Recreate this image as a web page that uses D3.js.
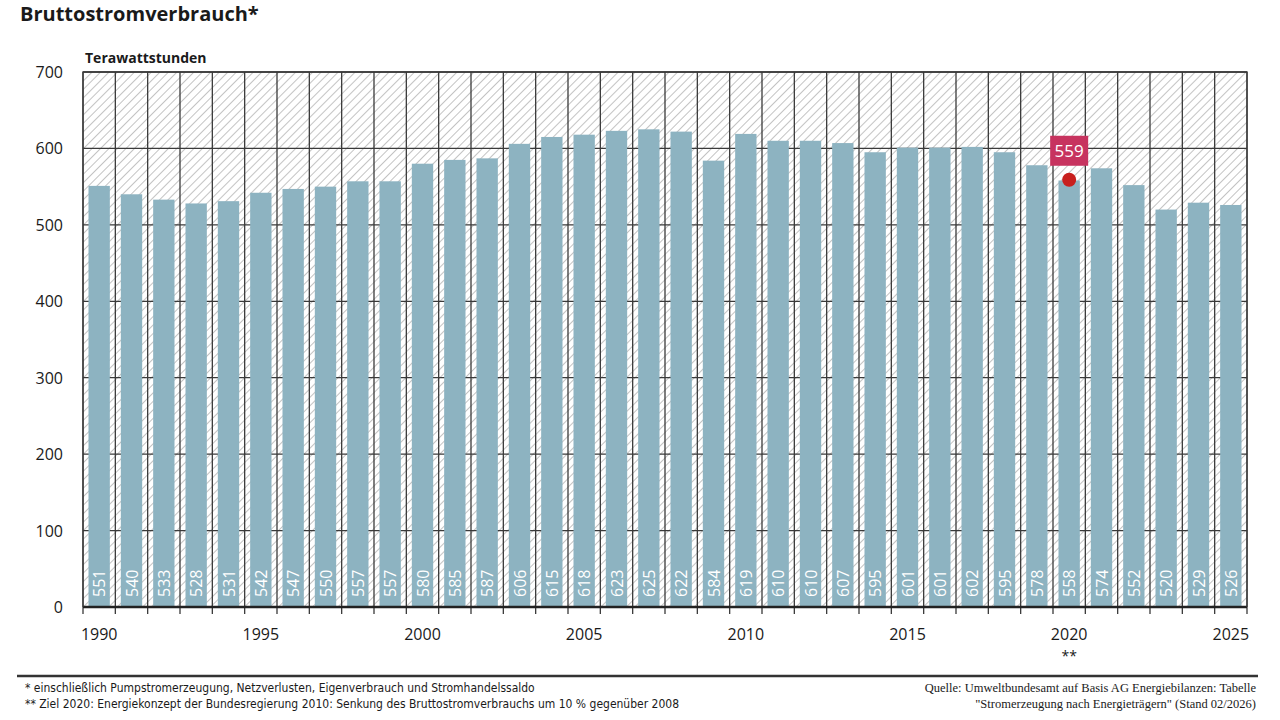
<!DOCTYPE html>
<html>
<head>
<meta charset="utf-8">
<script src="https://cdn.jsdelivr.net/npm/d3@7"></script>
<style>
	body { margin: 0; background: #fff; }
	svg { display: block; }
</style>
</head>
<body>
<script>
const years = d3.range(1990, 2026);
const values = [
	551, 540, 533, 528, 531, 542, 547, 550, 557, 557,
	580, 585, 587, 606, 615, 618, 623, 625, 622, 584,
	619, 610, 610, 607, 595, 601, 601, 602, 595, 578,
	558, 574, 552, 520, 529, 526,
];
const yTicks = [0, 100, 200, 300, 400, 500, 600, 700];
const xTickLabels = [1990, 1995, 2000, 2005, 2010, 2015, 2020, 2025];
const target = { year: 2020, value: 559 };

const colors = {
	bar: "#8db3c1",
	grid: "#3a3a3a",
	hatch: "#bdbdbd",
	text: "#1a1a1a",
	marker: "#c8201e",
	badge: "#c7335f",
};
const margin = { top: 72, left: 83, right: 33, bottom: 113 };
const width = 1280, height = 720;
const plotW = width - margin.left - margin.right;
const plotH = height - margin.top - margin.bottom;
const sans = "'Open Sans', 'Noto Sans', sans-serif";
const narrow = "'Liberation Sans Narrow', 'DejaVu Sans Condensed', sans-serif";

const svg = d3.select("body")
	.append("svg")
	.attr("width", width)
	.attr("height", height);

// hatch pattern for plot background
const pattern = svg.append("defs")
	.append("pattern")
	.attr("id", "hatch")
	.attr("patternUnits", "userSpaceOnUse")
	.attr("width", 6)
	.attr("height", 6)
	.attr("patternTransform", "rotate(45)");
pattern.append("rect").attr("width", 6).attr("height", 6).attr("fill", "#fff");
pattern.append("line")
	.attr("x1", 0).attr("y1", 0).attr("x2", 0).attr("y2", 6)
	.attr("stroke", colors.hatch)
	.attr("stroke-width", 1.8);

const x = d3.scaleBand().domain(years).range([0, plotW]).paddingInner(0.34).paddingOuter(0.17);
const step = x.step();
const y = d3.scaleLinear().domain([0, 700]).range([plotH, 0]);

const g = svg.append("g").attr("transform", `translate(${margin.left}, ${margin.top})`);

g.append("rect")
	.attr("width", plotW)
	.attr("height", plotH)
	.attr("fill", "url(#hatch)");

// horizontal grid
g.append("g")
	.selectAll("line")
	.data(yTicks.slice(1))
	.enter()
	.append("line")
	.attr("x1", 0)
	.attr("x2", plotW)
	.attr("y1", (d) => y(d))
	.attr("y2", (d) => y(d))
	.attr("stroke", colors.grid)
	.attr("stroke-width", 1.3);

// vertical grid at category boundaries
const bounds = years.map((d) => x(d) - (step - x.bandwidth()) / 2);
bounds.push(plotW);
g.append("g")
	.selectAll("line")
	.data(bounds)
	.enter()
	.append("line")
	.attr("x1", (d) => d)
	.attr("x2", (d) => d)
	.attr("y1", 0)
	.attr("y2", plotH + 7)
	.attr("stroke", colors.grid)
	.attr("stroke-width", 1.3);

// bars
g.append("g")
	.selectAll("rect")
	.data(values)
	.enter()
	.append("rect")
	.attr("x", (d, i) => x(years[i]))
	.attr("y", (d) => y(d))
	.attr("width", x.bandwidth())
	.attr("height", (d) => plotH - y(d))
	.attr("fill", colors.bar);

// value labels inside bars
g.append("g")
	.selectAll("text")
	.data(values)
	.enter()
	.append("text")
	.text((d) => d)
	.attr("transform", (d, i) => `translate(${x(years[i]) + x.bandwidth() / 2 + 6}, ${plotH - 10}) rotate(-90)`)
	.attr("fill", "#fff")
	.style("font-family", sans)
	.style("font-size", "16px");

// bottom axis line
g.append("line")
	.attr("x1", 0).attr("x2", plotW)
	.attr("y1", plotH).attr("y2", plotH)
	.attr("stroke", "#222")
	.attr("stroke-width", 2.5);

// frame top and right
g.append("path")
	.attr("d", `M0,${plotH}V0H${plotW}V${plotH}`)
	.attr("fill", "none")
	.attr("stroke", colors.grid)
	.attr("stroke-width", 1.3);

// y tick labels
g.append("g")
	.selectAll("text")
	.data(yTicks)
	.enter()
	.append("text")
	.text((d) => d)
	.attr("x", -20)
	.attr("y", (d) => y(d) + 6)
	.attr("text-anchor", "end")
	.attr("fill", colors.text)
	.style("font-family", sans)
	.style("font-size", "16px");

// x tick labels
g.append("g")
	.selectAll("text")
	.data(xTickLabels)
	.enter()
	.append("text")
	.text((d) => d)
	.attr("x", (d) => x(d) + x.bandwidth() / 2)
	.attr("y", plotH + 33)
	.attr("text-anchor", "middle")
	.attr("fill", colors.text)
	.style("font-family", sans)
	.style("font-size", "16px");

g.append("text")
	.text("**")
	.attr("x", x(target.year) + x.bandwidth() / 2)
	.attr("y", plotH + 54)
	.attr("text-anchor", "middle")
	.attr("fill", colors.text)
	.style("font-family", sans)
	.style("font-size", "14px");

// target marker
const tx = x(target.year) + x.bandwidth() / 2;
g.append("circle")
	.attr("cx", tx)
	.attr("cy", y(target.value))
	.attr("r", 7)
	.attr("fill", colors.marker);
g.append("rect")
	.attr("x", tx - 19)
	.attr("y", y(target.value) - 44)
	.attr("width", 38)
	.attr("height", 30)
	.attr("fill", colors.badge);
g.append("text")
	.text(target.value)
	.attr("x", tx)
	.attr("y", y(target.value) - 23)
	.attr("text-anchor", "middle")
	.attr("fill", "#fff")
	.style("font-family", sans)
	.style("font-size", "17px");

// titles
svg.append("text")
	.text("Bruttostromverbrauch*")
	.attr("x", 20)
	.attr("y", 21)
	.attr("fill", colors.text)
	.style("font-family", sans)
	.style("font-weight", "bold")
	.style("font-size", "20px");
svg.append("text")
	.text("Terawattstunden")
	.attr("x", 85)
	.attr("y", 63)
	.attr("fill", colors.text)
	.style("font-family", sans)
	.style("font-weight", "bold")
	.style("font-size", "14px");

// footer
svg.append("line")
	.attr("x1", 17).attr("x2", 1258)
	.attr("y1", 676).attr("y2", 676)
	.attr("stroke", "#333")
	.attr("stroke-width", 2.5);

const notes = [
	"* einschließlich Pumpstromerzeugung, Netzverlusten, Eigenverbrauch und Stromhandelssaldo",
	"** Ziel 2020: Energiekonzept der Bundesregierung 2010: Senkung des Bruttostromverbrauchs um 10 % gegenüber 2008",
];
svg.append("g")
	.selectAll("text")
	.data(notes)
	.enter()
	.append("text")
	.text((d) => d)
	.attr("x", 25)
	.attr("y", (d, i) => 692 + i * 16)
	.attr("fill", colors.text)
	.style("font-family", narrow)
	.style("font-size", "12px");

const source = [
	"Quelle: Umweltbundesamt auf Basis AG Energiebilanzen: Tabelle",
	"\"Stromerzeugung nach Energieträgern\" (Stand 02/2026)",
];
svg.append("g")
	.selectAll("text")
	.data(source)
	.enter()
	.append("text")
	.text((d) => d)
	.attr("x", 1256)
	.attr("y", (d, i) => 692 + i * 16)
	.attr("text-anchor", "end")
	.attr("fill", colors.text)
	.style("font-family", "'Liberation Serif', 'DejaVu Serif', serif")
	.style("font-size", "12.5px");
</script>
</body>
</html>
